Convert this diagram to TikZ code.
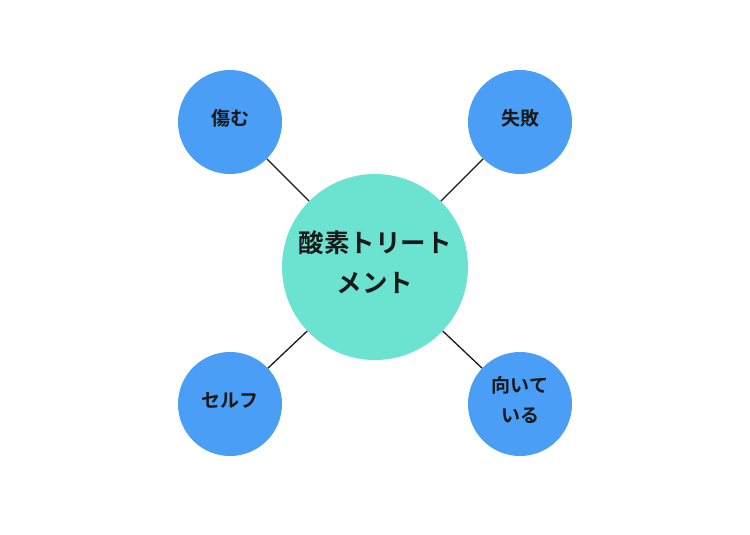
\documentclass[tikz,border=0pt]{standalone}
\usepackage{fontspec}
\newfontfamily\cjk{Noto Sans CJK JP}[BoldFont={Noto Sans CJK JP Bold}]
\begin{document}
\begin{tikzpicture}[x=1pt,y=-1pt,
  hub/.style={circle,fill=teal0,minimum size=186pt,inner sep=0pt},
  hubtext/.style={align=center,inner sep=0pt,font=\cjk\bfseries\fontsize{25.5}{40}\selectfont,text=black!90},
  leaf/.style={circle,fill=blue0,minimum size=104pt,inner sep=0pt},
  leaftext/.style={align=center,inner sep=0pt,font=\cjk\bfseries\fontsize{19}{30}\selectfont,text=black!90},
  link/.style={draw=black!90,line width=1.3pt}]
\definecolor{teal0}{HTML}{6CE3D1}
\definecolor{blue0}{HTML}{4A9EF5}
\useasboundingbox[fill=white] (0,0) rectangle (750,535);
\node[hub] (c) at (375,267) {};
\node[hubtext] (ct) at (375,262) {酸素トリート\\メント};
\node[leaf] (a) at (230,122) {};
\node[leaftext] (at) at (230,118) {傷む};
\node[leaf] (b) at (520,122) {};
\node[leaftext] (bt) at (520,118) {失敗};
\node[leaf] (d) at (230,404) {};
\node[leaftext] (dt) at (230,400) {セルフ};
\node[leaf] (e) at (520,404) {};
\node[leaftext] (et) at (520,400) {向いて\\いる};
\draw[link] (a) -- (c);
\draw[link] (b) -- (c);
\draw[link] (d) -- (c);
\draw[link] (e) -- (c);
\end{tikzpicture}
\end{document}
